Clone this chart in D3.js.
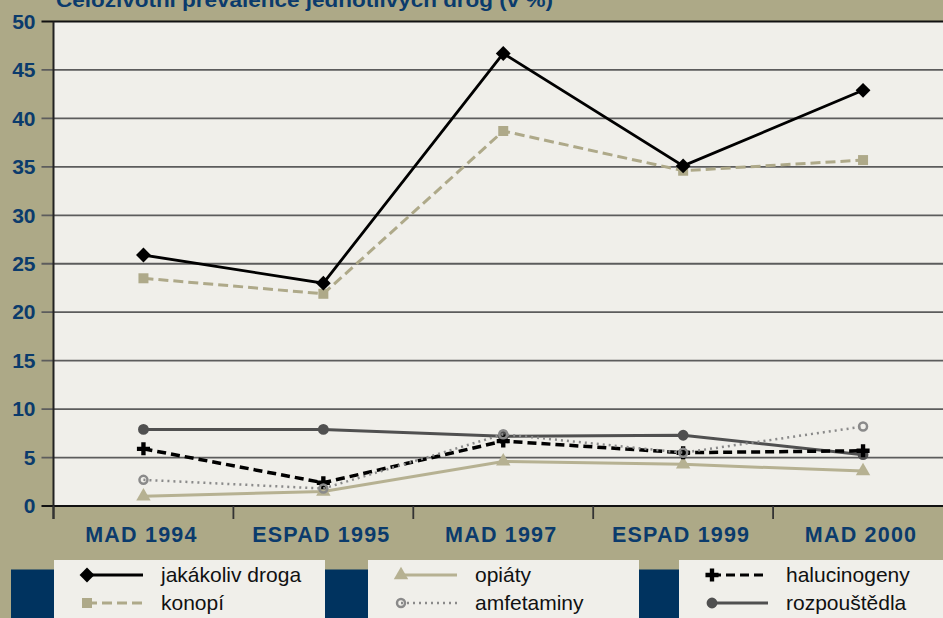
<!DOCTYPE html>
<meta charset="utf-8">
<head>
    <title>Celoživotní prevalence</title>
</head>
<style>
    body { margin: 0; background: #ada987; }
    svg { display: block; }
    text { font-family: "Liberation Sans", Arial, sans-serif; }
</style>
<body>
    <svg width="943" height="618"></svg>

    <script src="https://cdnjs.cloudflare.com/ajax/libs/d3/7.8.5/d3.min.js"></script>
    <script>
        // data
        var categories = ["MAD 1994", "ESPAD 1995", "MAD 1997", "ESPAD 1999", "MAD 2000"]
        var yTicks = [0, 5, 10, 15, 20, 25, 30, 35, 40, 45, 50]
        var jakakoliv = [25.9, 23.0, 46.7, 35.1, 42.9]
        var konopi = [23.5, 21.9, 38.7, 34.6, 35.7]
        var opiaty = [1.0, 1.5, 4.6, 4.3, 3.6]
        var amfetaminy = [2.7, 1.8, 7.4, 5.5, 8.2]
        var halucinogeny = [5.9, 2.4, 6.7, 5.5, 5.7]
        var rozpoustedla = [7.9, 7.9, 7.2, 7.3, 5.3]

        var title = "Celoživotní prevalence jednotlivých drog (v %)"

        var blue = "#0b3b6c", navy = "#00335f", paper = "#f0efea"

        // styles per series
        var series = [
            { name: "konopí", values: konopi, color: "#aea989", width: 3, dash: "10,5", sym: "square" },
            { name: "jakákoliv droga", values: jakakoliv, color: "#000", width: 2.8, dash: null, sym: "diamond" },
            { name: "opiáty", values: opiaty, color: "#b6b192", width: 3, dash: null, sym: "triangle" },
            { name: "rozpouštědla", values: rozpoustedla, color: "#505050", width: 3, dash: null, sym: "circle" },
            { name: "halucinogeny", values: halucinogeny, color: "#000", width: 3.5, dash: "9,5", sym: "cross" },
            { name: "amfetaminy", values: amfetaminy, color: "#8a8a8a", width: 2.5, dash: "2,4", sym: "ring" }
        ]
        var byName = {}
        series.forEach(function (s) { byName[s.name] = s })

        var svg = d3.select("svg")
        var plotLeft = 53.5, plotRight = 953, plotTop = 21.5, plotBottom = 506

        var x = d3.scaleBand().domain(categories).range([plotLeft, plotRight])
        var y = d3.scaleLinear().domain([0, 50]).range([plotBottom, plotTop])

        // plot background
        svg.append("rect")
            .attr("x", plotLeft).attr("y", plotTop)
            .attr("width", plotRight - plotLeft).attr("height", plotBottom - plotTop)
            .attr("fill", paper)

        // title (cut off at the top like the original)
        svg.append("text")
            .attr("x", 56).attr("y", 6.5)
            .attr("font-size", 21).attr("font-weight", "bold")
            .attr("fill", blue)
            .attr("textLength", 497).attr("lengthAdjust", "spacingAndGlyphs")
            .text(title)

        // gridlines
        svg.append("g")
            .selectAll("line")
            .data(yTicks)
            .enter()
            .append("line")
            .attr("x1", plotLeft - 12).attr("x2", plotRight)
            .attr("y1", function (d) { return y(d) })
            .attr("y2", function (d) { return y(d) })
            .attr("stroke", function (d) { return d == 50 || d == 0 ? "#111" : "#5c5c5c" })
            .attr("stroke-width", function (d) { return d == 50 || d == 0 ? 2 : 1.8 })

        // y axis labels
        var yAxis = d3.axisLeft(y).tickValues(yTicks).tickSize(0).tickPadding(18)
        var gy = svg.append("g").attr("transform", "translate(" + plotLeft + ",0)").call(yAxis)
        gy.select(".domain").remove()
        gy.selectAll("text")
            .attr("font-family", "'Liberation Sans', Arial, sans-serif")
            .attr("font-size", 21)
            .attr("font-weight", "bold")
            .attr("fill", blue)

        // left axis line
        svg.append("line")
            .attr("x1", plotLeft).attr("x2", plotLeft)
            .attr("y1", plotTop).attr("y2", plotBottom + 13)
            .attr("stroke", "#222").attr("stroke-width", 2)

        // x ticks at band edges
        svg.append("g")
            .selectAll("line")
            .data(categories)
            .enter()
            .append("line")
            .attr("x1", function (d) { return x(d) })
            .attr("x2", function (d) { return x(d) })
            .attr("y1", plotBottom).attr("y2", plotBottom + 13)
            .attr("stroke", "#333").attr("stroke-width", 1.8)

        // x labels
        svg.append("g")
            .selectAll("text")
            .data(categories)
            .enter()
            .append("text")
            .attr("x", function (d) { return x(d) + x.bandwidth() / 2 - 2 })
            .attr("y", 542)
            .attr("text-anchor", "middle")
            .attr("font-size", 21.5).attr("font-weight", "bold")
            .attr("letter-spacing", 1.2)
            .attr("fill", blue)
            .text(function (d) { return d })

        function symbolPath(sym) {
            if (sym == "diamond") return d3.symbol(d3.symbolSquare, 110)()
            if (sym == "square") return d3.symbol(d3.symbolSquare, 100)()
            if (sym == "triangle") return d3.symbol(d3.symbolTriangle, 90)()
            if (sym == "cross") return d3.symbol(d3.symbolCross, 95)()
            if (sym == "circle") return d3.symbol(d3.symbolCircle, 92)()
            return d3.symbol(d3.symbolCircle, 50)()
        }

        function drawMarker(g, s, px, py) {
            var m = g.append("path")
                .attr("d", symbolPath(s.sym))
                .attr("transform", "translate(" + px + "," + py + ")" + (s.sym == "diamond" ? " rotate(45)" : ""))
            if (s.sym == "ring") {
                m.attr("fill", "none").attr("stroke", s.color).attr("stroke-width", 2.5)
            } else {
                m.attr("fill", s.color)
            }
        }

        var line = d3.line()
            .x(function (d, i) { return x(categories[i]) + x.bandwidth() / 2 })
            .y(function (d) { return y(d) })

        // series lines and markers
        series.forEach(function (s) {
            var g = svg.append("g")
            g.append("path")
                .datum(s.values)
                .attr("d", line)
                .attr("fill", "none")
                .attr("stroke", s.color)
                .attr("stroke-width", s.width)
                .attr("stroke-dasharray", s.dash)
            s.values.forEach(function (v, i) {
                drawMarker(g, s, x(categories[i]) + x.bandwidth() / 2, y(v))
            })
        })

        // legend
        var legendGroups = [
            ["jakákoliv droga", "konopí"],
            ["opiáty", "amfetaminy"],
            ["halucinogeny", "rozpouštědla"]
        ]
        var boxX = [54, 368, 679], boxW = 271, rowY = [575, 603]

        svg.append("rect")
            .attr("x", 11).attr("y", 569.5)
            .attr("width", 943).attr("height", 60)
            .attr("fill", navy)

        legendGroups.forEach(function (names, b) {
            var g = svg.append("g").attr("transform", "translate(" + boxX[b] + ",0)")
            g.append("rect")
                .attr("x", 0).attr("y", 560)
                .attr("width", boxW).attr("height", 70)
                .attr("fill", paper)
            names.forEach(function (n, r) {
                var s = byName[n]
                g.append("line")
                    .attr("x1", 33).attr("x2", 89)
                    .attr("y1", rowY[r]).attr("y2", rowY[r])
                    .attr("stroke", s.color)
                    .attr("stroke-width", Math.min(s.width, 3))
                    .attr("stroke-dasharray", s.dash)
                drawMarker(g, s, 33, rowY[r])
                g.append("text")
                    .attr("x", 107).attr("y", rowY[r] + 7)
                    .attr("font-size", 21)
                    .attr("fill", "#111")
                    .text(n)
            })
        })
    </script>
</body>
</html>
